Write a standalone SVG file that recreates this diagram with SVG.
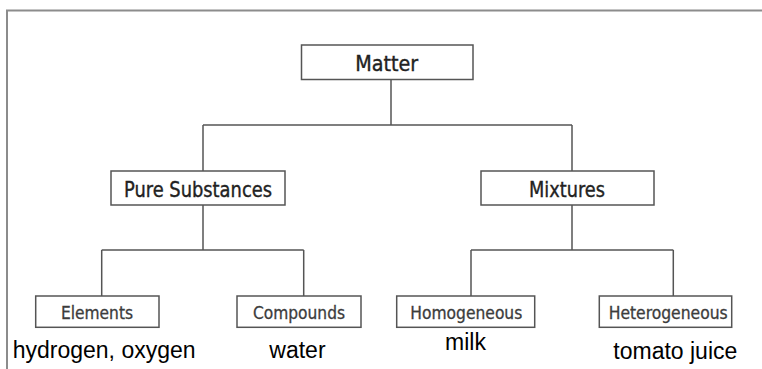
<svg xmlns="http://www.w3.org/2000/svg" width="762" height="369" viewBox="0 0 762 369">
  <style>
    .frame { fill: none; stroke: #8c8c8c; stroke-width: 2; }
    .box { fill: #ffffff; stroke: #555555; stroke-width: 1.5; }
    .conn { fill: none; stroke: #555555; stroke-width: 1.5; }
    .lbl { font-family: "DejaVu Sans Condensed", "DejaVu Sans", sans-serif; fill: #222222; stroke: #222222; stroke-width: 0.35; text-anchor: middle; }
    .l1 { font-size: 21px; }
    .l3 { font-size: 18px; fill: #3c3c3c; stroke: #3c3c3c; stroke-width: 0.3; }
    .ex { font-family: "Liberation Sans", Arial, sans-serif; font-size: 23px; fill: #000000; }
  </style>
  <rect x="0" y="0" width="762" height="369" fill="#ffffff"/>
  <path class="frame" d="M7,369 V10.5 H762"/>

  <g id="connectors">
    <path class="conn" d="M391,79.5 V125 M203,125 H572 M203,125 V171 M572,125 V171"/>
    <path class="conn" d="M203,205 V250 M101.7,250 H303.7 M101.7,250 V296 M303.7,250 V296"/>
    <path class="conn" d="M572,205 V250 M471,250 H673.3 M471,250 V296 M673.3,250 V296"/>
  </g>

  <g id="matter">
    <rect class="box" x="301.5" y="45" width="171.5" height="34.5"/>
    <text class="lbl l1" x="386.7" y="70.5" textLength="63" lengthAdjust="spacingAndGlyphs">Matter</text>
  </g>
  <g id="pure-substances">
    <rect class="box" x="111" y="171" width="174" height="34"/>
    <text class="lbl l1" x="198" y="196.5" textLength="148" lengthAdjust="spacingAndGlyphs">Pure Substances</text>
  </g>
  <g id="mixtures">
    <rect class="box" x="481" y="171" width="173" height="34"/>
    <text class="lbl l1" x="567" y="196.5" textLength="76" lengthAdjust="spacingAndGlyphs">Mixtures</text>
  </g>
  <g id="elements">
    <rect class="box" x="35.7" y="296" width="123.3" height="31.3"/>
    <text class="lbl l3" x="97" y="318.7" textLength="72" lengthAdjust="spacingAndGlyphs">Elements</text>
  </g>
  <g id="compounds">
    <rect class="box" x="237" y="296" width="124" height="31.3"/>
    <text class="lbl l3" x="299" y="318.7" textLength="92" lengthAdjust="spacingAndGlyphs">Compounds</text>
  </g>
  <g id="homogeneous">
    <rect class="box" x="396.7" y="296" width="138" height="31.3"/>
    <text class="lbl l3" x="466.3" y="318.7" textLength="112" lengthAdjust="spacingAndGlyphs">Homogeneous</text>
  </g>
  <g id="heterogeneous">
    <rect class="box" x="599.3" y="296" width="132.4" height="31.3"/>
    <text class="lbl l3" x="668.2" y="318.7" textLength="119" lengthAdjust="spacingAndGlyphs">Heterogeneous</text>
  </g>

  <g id="examples">
    <text class="ex" x="12.7" y="358">hydrogen, oxygen</text>
    <text class="ex" x="269.3" y="358">water</text>
    <text class="ex" x="445" y="350">milk</text>
    <text class="ex" x="613.3" y="359.3">tomato juice</text>
  </g>
</svg>
